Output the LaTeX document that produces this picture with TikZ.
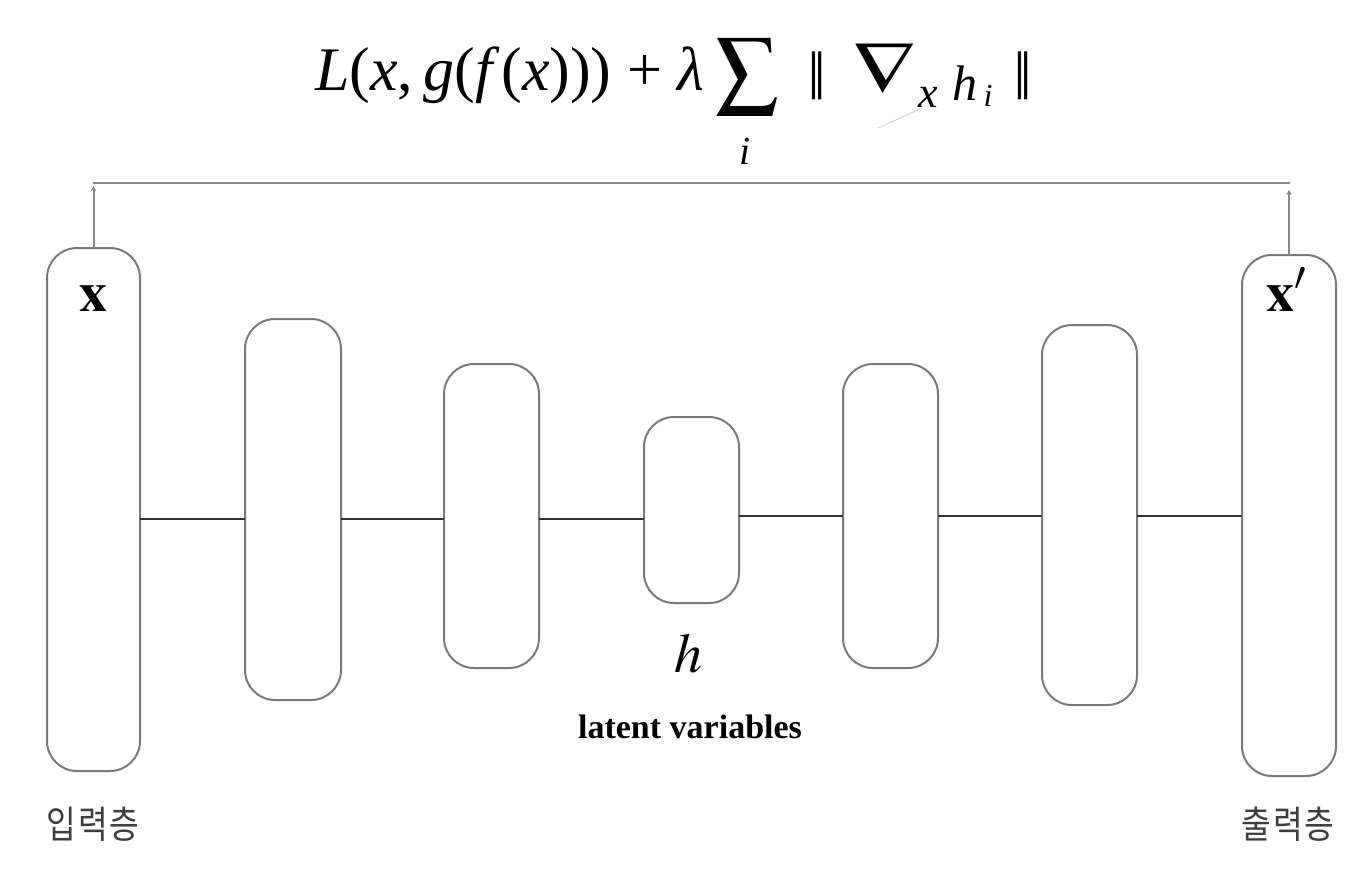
\documentclass[tikz,border=0pt]{standalone}
\usepackage{mathptmx}
\usepackage[no-math]{fontspec}
\setmainfont{Liberation Serif}
\newfontfamily\kofont[LetterSpace=6]{Noto Sans CJK KR}
\newfontfamily\symfont{DejaVu Sans}
\usetikzlibrary{arrows.meta}
\definecolor{boxgray}{HTML}{7A7A7A}
\definecolor{linedark}{HTML}{333333}
\definecolor{topgray}{HTML}{8A8A8A}
\definecolor{kogray}{HTML}{3E3E3E}
\definecolor{paleblue}{HTML}{C4DAEA}
\tikzset{
  layer/.style={draw=boxgray, line width=1pt, rounded corners=15pt, inner sep=0pt, outer sep=0pt, fill=white},
  link/.style={draw=linedark, line width=1.3pt},
  toparrow/.style={draw=topgray, line width=1pt, -{Stealth[length=2.5pt,width=2.8pt]}},
  topline/.style={draw=topgray, line width=1pt},
  kolabel/.style={font=\kofont\fontsize{19}{21}\selectfont, text=kogray, inner sep=0pt, xscale=0.85},
  eq/.style={inner sep=0pt, outer sep=0pt},
  norm/.style={eq, font=\symfont\fontsize{24}{28}\selectfont, xscale=0.8},
}
\begin{document}
\begin{tikzpicture}[x=0.5pt,y=-0.5pt]
\useasboundingbox (0,0) rectangle (1368,874);
% formula
\node[eq, anchor=base west] (fL) at (315,90)
  {\fontsize{31}{36}\selectfont\textit{L}(\textit{x},\,\textit{g}(\textit{f}\kern1pt(\textit{x}))) + \textit{λ}};
\node[eq] (fS) at (747.5,76.5) {\fontsize{31}{36}\selectfont $\displaystyle\sum$};
\node[eq] (fi) at (745,151) {\fontsize{20}{24}\selectfont\textit{i}};
\node[norm] (fn1) at (817.5,76) {‖};
\node[eq, xscale=1.25] (fnab) at (884.5,68) {\fontsize{36}{40}\selectfont $\nabla$};
\node[eq] (fx) at (928,97) {\fontsize{22}{26}\selectfont\textit{x}};
\node[eq, anchor=base] (fh) at (964.5,100) {\fontsize{25}{28}\selectfont\textit{h}};
\node[eq, anchor=base] (fhi) at (988,106) {\fontsize{16}{18}\selectfont\textit{i}};
\node[norm] (fn2) at (1023.5,76) {‖};
\draw[paleblue, line width=0.5pt] (878,128) -- (920,109);
% layers
\node[layer, minimum width=46.5pt, minimum height=261.5pt] (b1) at (93.5,509.5) {};
\node[layer, minimum width=48pt,   minimum height=190.5pt] (b2) at (293,509.5) {};
\node[layer, minimum width=47.5pt, minimum height=152pt]   (b3) at (491.5,516) {};
\node[layer, minimum width=47.5pt, minimum height=93pt]    (b4) at (691.5,510) {};
\node[layer, minimum width=47.5pt, minimum height=152pt]   (b5) at (890.5,516) {};
\node[layer, minimum width=47.5pt, minimum height=190pt]   (b6) at (1089.5,515) {};
\node[layer, minimum width=47pt,   minimum height=260.5pt] (b7) at (1289,515.5) {};
% labels in boxes
\node[inner sep=0pt, anchor=base] (lx) at (93,311) {\fontsize{28}{30}\selectfont $\mathbf{x}$};
\node[inner sep=0pt, anchor=base] (lxp) at (1287,311) {\fontsize{28}{30}\selectfont $\mathbf{x}'$};
\node[inner sep=0pt] (lh) at (688,654) {\fontsize{28}{30}\selectfont $h$};
\node[inner sep=0pt, font=\bfseries\fontsize{17}{20}\selectfont] (lat) at (690,727) {latent variables};
\node[kolabel] (kin) at (93,824) {입력층};
\node[kolabel] (kout) at (1288,824) {출력층};
% connectors
\coordinate (mL) at (0,519);
\coordinate (mR) at (0,516);
\draw[link] (b1.east |- mL) -- (b2.west |- mL);
\draw[link] (b2.east |- mL) -- (b3.west |- mL);
\draw[link] (b3.east |- mL) -- (b4.west |- mL);
\draw[link] (b4.east |- mR) -- (b5.west |- mR);
\draw[link] (b5.east |- mR) -- (b6.west |- mR);
\draw[link] (b6.east |- mR) -- (b7.west |- mR);
% top feedback
\coordinate (tl) at (93,182.5);
\coordinate (tr) at (1290,182.5);
\coordinate (al) at (93.5,186);
\coordinate (ar) at (1289,190);
\draw[topline] (tl) -- (tr);
\draw[toparrow] (b1.north) -- (al);
\draw[toparrow] (b7.north) -- (ar);
\end{tikzpicture}
\end{document}
